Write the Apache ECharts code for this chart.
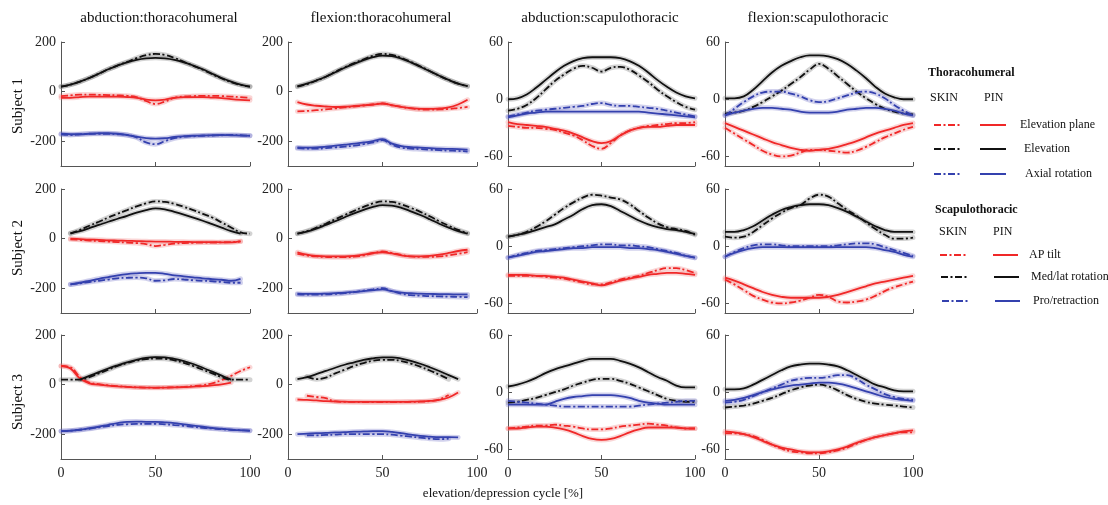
<!DOCTYPE html>
<html>
<head>
<meta charset="utf-8">
<script src="https://cdn.jsdelivr.net/npm/echarts@6/dist/echarts.min.js"></script>
<style>
html, body { margin: 0; padding: 0; background: #fff; }
#chart { width: 1108px; height: 505px; }
</style>
</head>
<body>
<div id="chart"></div>
<script>
// elevation/depression cycle [%], sampled every 5 %
const cycle = [0, 5, 10, 15, 20, 25, 30, 35, 40, 45, 50, 55, 60, 65, 70, 75, 80, 85, 90, 95, 100];

const colTitles = ['abduction:thoracohumeral', 'flexion:thoracohumeral', 'abduction:scapulothoracic', 'flexion:scapulothoracic'];
const rowTitles = ['Subject 1', 'Subject 2', 'Subject 3'];
const thTicks = [-200, 0, 200];
const stTicks = [-60, 0, 60];
const xTicks = [0, 50, 100];

// --- Subject 1 ---
const S1_abdTH_plane_skin = [-18, -15, -12, -12, -13, -14, -15, -17, -22, -38, -50, -40, -25, -20, -18, -17, -17, -18, -20, -22, -25];
const S1_abdTH_plane_pin = [-25, -25, -22, -20, -20, -20, -20, -22, -25, -32, -35, -32, -25, -22, -22, -22, -24, -26, -30, -33, -35];
const S1_abdTH_elev_skin = [20, 28, 40, 55, 72, 90, 106, 120, 135, 147, 152, 148, 136, 120, 104, 88, 70, 53, 38, 27, 20];
const S1_abdTH_elev_pin = [20, 28, 40, 55, 72, 90, 105, 118, 128, 134, 136, 134, 128, 118, 105, 90, 72, 55, 40, 28, 20];
const S1_abdTH_axial_skin = [-172, -175, -172, -170, -170, -170, -172, -175, -185, -205, -212, -200, -188, -182, -180, -178, -177, -176, -175, -176, -178];
const S1_abdTH_axial_pin = [-170, -172, -172, -170, -168, -168, -170, -175, -182, -188, -190, -188, -183, -180, -178, -177, -176, -175, -176, -177, -178];

const S1_flexTH_plane_skin = [null, -80, -78, -75, -72, -68, -64, -60, -56, -52, -48, -55, -62, -68, -72, -73, -72, -70, -66, -62, null];
const S1_flexTH_plane_pin = [null, -42, -52, -57, -60, -62, -61, -58, -55, -52, -48, -55, -62, -67, -70, -70, -68, -64, -52, -33, null];
const S1_flexTH_elev_skin = [null, 20, 30, 44, 60, 80, 98, 115, 130, 144, 152, 148, 136, 120, 102, 83, 64, 47, 32, 22, null];
const S1_flexTH_elev_pin = [null, 22, 32, 45, 60, 78, 96, 112, 127, 139, 145, 143, 133, 118, 100, 82, 64, 47, 32, 22, null];
const S1_flexTH_axial_skin = [null, -228, -230, -230, -228, -225, -222, -218, -212, -205, -196, -214, -226, -230, -232, -234, -236, -238, -239, -242, null];
const S1_flexTH_axial_pin = [null, -225, -226, -225, -222, -218, -214, -210, -205, -200, -192, -210, -220, -224, -226, -228, -230, -231, -232, -234, null];

const S1_abdST_tilt_skin = [-28, -29, -30, -30, -31, -32, -35, -38, -43, -49, -52, -46, -38, -33, -30, -28, -27, -26, -25, -25, -24];
const S1_abdST_tilt_pin = [-24, -26, -27, -28, -29, -31, -33, -36, -40, -44, -46, -44, -38, -33, -30, -29, -29, -28, -27, -27, -27];
const S1_abdST_medlat_skin = [-12, -10, -6, 1, 10, 19, 26, 32, 35, 33, 29, 33, 34, 31, 25, 18, 10, 3, -3, -8, -11];
const S1_abdST_medlat_pin = [0, 1, 5, 12, 20, 28, 35, 40, 43, 44, 44, 44, 43, 40, 35, 28, 20, 13, 7, 3, 1];
const S1_abdST_pro_skin = [-18, -16, -14, -12, -11, -10, -9, -8, -7, -5, -4, -6, -7, -7, -8, -9, -10, -12, -14, -16, -18];
const S1_abdST_pro_pin = [-19, -17, -15, -14, -13, -13, -13, -13, -13, -13, -13, -13, -13, -13, -13, -14, -15, -16, -17, -18, -19];

const S1_flexST_tilt_skin = [-30, -36, -42, -48, -54, -58, -60, -59, -56, -53, -53, -54, -55, -56, -54, -50, -45, -40, -36, -32, -29];
const S1_flexST_tilt_pin = [-25, -29, -33, -37, -41, -45, -48, -51, -53, -54, -53, -52, -50, -47, -44, -40, -36, -33, -30, -27, -25];
const S1_flexST_medlat_skin = [-15, -14, -12, -8, -3, 3, 9, 16, 23, 31, 37, 32, 24, 16, 8, 1, -5, -10, -13, -15, -16];
const S1_flexST_medlat_pin = [1, 1, 3, 10, 19, 28, 35, 40, 44, 46, 46, 45, 42, 37, 30, 22, 13, 6, 2, 0, 0];
const S1_flexST_pro_skin = [-17, -10, -3, 3, 7, 8, 8, 6, 3, -1, -3, -2, 1, 4, 7, 8, 6, 1, -6, -12, -17];
const S1_flexST_pro_pin = [-17, -14, -12, -10, -9, -9, -10, -11, -13, -14, -14, -14, -13, -11, -10, -9, -9, -10, -12, -15, -17];

// --- Subject 2 ---
const S2_abdTH_plane_skin = [null, -3, -5, -8, -10, -12, -14, -16, -18, -22, -30, -25, -20, -18, -17, -16, -16, -15, -14, -12, null];
const S2_abdTH_plane_pin = [null, 0, -2, -4, -5, -7, -8, -9, -10, -11, -12, -12, -13, -13, -14, -14, -14, -15, -15, -10, null];
const S2_abdTH_elev_skin = [null, 20, 35, 52, 68, 85, 100, 115, 130, 142, 150, 148, 140, 128, 115, 100, 85, 65, 45, 25, 20];
const S2_abdTH_elev_pin = [null, 22, 30, 42, 55, 68, 80, 92, 105, 115, 122, 118, 108, 97, 85, 72, 58, 44, 30, 20, null];
const S2_abdTH_axial_skin = [null, -185, -180, -175, -170, -165, -160, -158, -157, -160, -170, -168, -163, -165, -168, -170, -172, -175, -178, -178, null];
const S2_abdTH_axial_pin = [null, -185, -178, -170, -162, -155, -148, -143, -140, -138, -138, -142, -148, -152, -156, -160, -163, -166, -170, -162, null];

const S2_flexTH_plane_skin = [null, -62, -68, -72, -74, -75, -75, -73, -68, -60, -52, -58, -66, -72, -74, -74, -72, -68, -62, -55, null];
const S2_flexTH_plane_pin = [null, -55, -65, -70, -72, -72, -72, -70, -65, -58, -55, -60, -68, -72, -72, -70, -65, -58, -50, -45, null];
const S2_flexTH_elev_skin = [null, 20, 30, 44, 60, 78, 95, 112, 128, 142, 150, 148, 138, 124, 108, 90, 70, 52, 35, 22, null];
const S2_flexTH_elev_pin = [null, 20, 28, 40, 55, 70, 86, 102, 116, 128, 135, 133, 124, 110, 95, 78, 60, 44, 30, 20, null];
const S2_flexTH_axial_skin = [null, -225, -226, -226, -225, -223, -220, -216, -210, -205, -200, -212, -222, -228, -230, -232, -233, -234, -235, -236, null];
const S2_flexTH_axial_pin = [null, -222, -223, -223, -222, -220, -218, -215, -212, -208, -205, -212, -218, -220, -222, -223, -224, -224, -225, -225, null];

const S2_abdST_tilt_skin = [-31, -31, -31, -31, -32, -33, -34, -36, -38, -40, -40, -38, -35, -33, -31, -28, -25, -23, -23, -25, -28];
const S2_abdST_tilt_pin = [-30, -30, -30, -31, -31, -32, -33, -35, -37, -39, -41, -39, -36, -34, -32, -30, -29, -28, -28, -29, -30];
const S2_abdST_medlat_skin = [10, 12, 15, 20, 26, 33, 40, 46, 51, 54, 53, 51, 49, 44, 37, 30, 24, 20, 18, 16, 12];
const S2_abdST_medlat_pin = [10, 12, 14, 17, 20, 23, 28, 33, 39, 43, 44, 42, 37, 32, 27, 23, 20, 18, 17, 15, 13];
const S2_abdST_pro_skin = [-12, -9, -7, -5, -4, -3, -2, -1, 0, 1, 2, 2, 1, 1, 0, -1, -3, -5, -7, -10, -12];
const S2_abdST_pro_pin = [-12, -10, -8, -6, -5, -4, -3, -2, -2, -1, -1, -1, -1, -2, -2, -3, -4, -6, -8, -10, -12];

const S2_flexST_tilt_skin = [-35, -40, -46, -52, -56, -59, -60, -59, -57, -54, -51, -53, -58, -59, -58, -56, -52, -47, -43, -40, -37];
const S2_flexST_tilt_pin = [-33, -36, -40, -44, -48, -51, -53, -54, -54, -54, -54, -53, -51, -48, -45, -42, -39, -37, -35, -33, -31];
const S2_flexST_medlat_skin = [10, 9, 10, 15, 22, 29, 35, 40, 43, 50, 54, 52, 45, 38, 32, 25, 18, 12, 8, 8, 9];
const S2_flexST_medlat_pin = [15, 15, 17, 21, 27, 33, 38, 41, 43, 44, 44, 43, 40, 36, 31, 26, 21, 17, 15, 15, 15];
const S2_flexST_pro_skin = [-11, -6, -2, 1, 2, 2, 1, 0, 0, 0, 0, 0, 1, 2, 3, 3, 2, -1, -4, -7, -10];
const S2_flexST_pro_pin = [-11, -7, -4, -2, -1, -1, -1, -1, -1, -1, -1, -1, -1, -1, -1, -1, -2, -4, -6, -9, -11];

// --- Subject 3 ---
const S3_abdTH_plane_skin = [75, 70, 30, 8, 2, -3, -6, -9, -11, -12, -13, -12, -11, -9, -6, -2, 5, 18, 35, 55, 70];
const S3_abdTH_plane_pin = [75, 65, 25, 5, 0, -4, -7, -9, -11, -12, -12, -12, -11, -10, -8, -6, -3, 1, 8, null, null];
const S3_abdTH_elev_skin = [20, 20, 20, 30, 45, 60, 75, 87, 97, 103, 105, 104, 98, 88, 75, 60, 45, 30, 20, 20, 20];
const S3_abdTH_elev_pin = [null, null, 20, 35, 50, 65, 78, 90, 100, 108, 111, 110, 104, 95, 83, 68, 52, 36, 20, null, null];
const S3_abdTH_axial_skin = [-188, -186, -182, -178, -172, -167, -162, -160, -158, -158, -158, -160, -163, -166, -170, -174, -177, -180, -182, -184, -186];
const S3_abdTH_axial_pin = [-188, -186, -182, -176, -170, -162, -155, -150, -149, -150, -150, -152, -155, -160, -165, -170, -175, -178, -182, -184, -186];

const S3_flexTH_plane_skin = [null, null, -45, -50, -55, -68, -70, -70, -71, -71, -71, -71, -70, -70, -69, -67, -60, -42, null, null, null];
const S3_flexTH_plane_pin = [null, -60, -62, -64, -67, -68, -69, -70, -70, -70, -70, -70, -70, -69, -68, -66, -62, -52, -32, null, null];
const S3_flexTH_elev_skin = [null, null, 32, 22, 28, 45, 60, 75, 87, 96, 100, 100, 95, 85, 72, 57, 40, 22, null, null, null];
const S3_flexTH_elev_pin = [null, 22, 30, 42, 55, 68, 80, 90, 100, 106, 110, 110, 105, 96, 84, 70, 55, 38, 22, null, null];
const S3_flexTH_axial_skin = [null, null, -205, -205, -203, -202, -200, -200, -200, -200, -200, -202, -206, -210, -214, -218, -220, -218, null, null, null];
const S3_flexTH_axial_pin = [null, -200, -198, -196, -195, -193, -192, -190, -189, -188, -188, -191, -196, -202, -207, -210, -212, -212, -213, null, null];

const S3_abdST_tilt_skin = [-38, -37, -36, -35, -35, -34, -35, -36, -38, -39, -39, -38, -36, -35, -34, -33, -34, -35, -37, -38, -38];
const S3_abdST_tilt_pin = [-38, -38, -37, -36, -36, -37, -39, -42, -46, -49, -50, -49, -46, -42, -39, -37, -37, -37, -37, -38, -38];
const S3_abdST_medlat_skin = [-11, -10, -8, -6, -3, 0, 3, 7, 10, 13, 14, 14, 12, 9, 5, 1, -3, -7, -9, -10, -10];
const S3_abdST_medlat_pin = [6, 8, 11, 15, 20, 24, 27, 30, 33, 35, 35, 35, 33, 30, 26, 21, 16, 12, 7, 5, 5];
const S3_abdST_pro_skin = [-9, -10, -11, -12, -13, -14, -15, -15, -15, -15, -15, -15, -15, -15, -14, -13, -12, -11, -10, -9, -9];
const S3_abdST_pro_pin = [-13, -13, -13, -13, -13, -10, -7, -5, -4, -3, -3, -3, -4, -6, -9, -11, -12, -13, -13, -13, -13];

const S3_flexST_tilt_skin = [-43, -43, -44, -46, -50, -55, -59, -62, -63, -64, -64, -63, -61, -58, -54, -50, -47, -45, -43, -42, -42];
const S3_flexST_tilt_pin = [-41, -42, -44, -47, -51, -55, -58, -60, -62, -63, -63, -62, -60, -57, -53, -50, -47, -45, -43, -41, -40];
const S3_flexST_medlat_skin = [-16, -15, -14, -12, -9, -6, -2, 2, 5, 7, 8, 6, 2, -3, -7, -10, -12, -13, -14, -15, -16];
const S3_flexST_medlat_pin = [3, 3, 4, 8, 13, 18, 23, 27, 29, 30, 30, 29, 27, 23, 18, 13, 8, 5, 2, 1, 1];
const S3_flexST_pro_skin = [-11, -10, -8, -4, 0, 4, 8, 12, 14, 15, 15, 16, 18, 18, 14, 8, 3, -2, -5, -7, -8];
const S3_flexST_pro_pin = [-9, -8, -6, -3, 0, 3, 5, 7, 8, 9, 10, 10, 9, 7, 4, 1, -2, -5, -7, -8, -9];

// each panel: red skin/pin, black skin/pin, blue skin/pin  (row-major)
const panelLines = [
    [S1_abdTH_plane_skin, S1_abdTH_plane_pin, S1_abdTH_elev_skin, S1_abdTH_elev_pin, S1_abdTH_axial_skin, S1_abdTH_axial_pin],
    [S1_flexTH_plane_skin, S1_flexTH_plane_pin, S1_flexTH_elev_skin, S1_flexTH_elev_pin, S1_flexTH_axial_skin, S1_flexTH_axial_pin],
    [S1_abdST_tilt_skin, S1_abdST_tilt_pin, S1_abdST_medlat_skin, S1_abdST_medlat_pin, S1_abdST_pro_skin, S1_abdST_pro_pin],
    [S1_flexST_tilt_skin, S1_flexST_tilt_pin, S1_flexST_medlat_skin, S1_flexST_medlat_pin, S1_flexST_pro_skin, S1_flexST_pro_pin],
    [S2_abdTH_plane_skin, S2_abdTH_plane_pin, S2_abdTH_elev_skin, S2_abdTH_elev_pin, S2_abdTH_axial_skin, S2_abdTH_axial_pin],
    [S2_flexTH_plane_skin, S2_flexTH_plane_pin, S2_flexTH_elev_skin, S2_flexTH_elev_pin, S2_flexTH_axial_skin, S2_flexTH_axial_pin],
    [S2_abdST_tilt_skin, S2_abdST_tilt_pin, S2_abdST_medlat_skin, S2_abdST_medlat_pin, S2_abdST_pro_skin, S2_abdST_pro_pin],
    [S2_flexST_tilt_skin, S2_flexST_tilt_pin, S2_flexST_medlat_skin, S2_flexST_medlat_pin, S2_flexST_pro_skin, S2_flexST_pro_pin],
    [S3_abdTH_plane_skin, S3_abdTH_plane_pin, S3_abdTH_elev_skin, S3_abdTH_elev_pin, S3_abdTH_axial_skin, S3_abdTH_axial_pin],
    [S3_flexTH_plane_skin, S3_flexTH_plane_pin, S3_flexTH_elev_skin, S3_flexTH_elev_pin, S3_flexTH_axial_skin, S3_flexTH_axial_pin],
    [S3_abdST_tilt_skin, S3_abdST_tilt_pin, S3_abdST_medlat_skin, S3_abdST_medlat_pin, S3_abdST_pro_skin, S3_abdST_pro_pin],
    [S3_flexST_tilt_skin, S3_flexST_tilt_pin, S3_flexST_medlat_skin, S3_flexST_medlat_pin, S3_flexST_pro_skin, S3_flexST_pro_pin]
];

const SERIF = '"Liberation Serif", "DejaVu Serif", serif';
const lineColors = ['#f02828', '#f02828', '#111111', '#111111', '#3441ae', '#3441ae'];
const bandColors = ['rgba(238,120,120,0.3)', 'rgba(238,120,120,0.3)', 'rgba(110,110,110,0.3)', 'rgba(110,110,110,0.3)', 'rgba(105,105,195,0.3)', 'rgba(105,105,195,0.3)'];
const dashDot = [7, 2.5, 2, 2.5];
const axisColor = '#555';

const gridLeft = [61, 288, 508, 725];
const gridWidth = [189, 189, 187, 188];
const gridTop = [42, 189, 335];
const gridHeight = 124;

function toPairs(values) {
    return cycle.map((x, i) => [x, values[i] == null ? '-' : values[i]]);
}

const grids = [], xAxes = [], yAxes = [], series = [];
panelLines.forEach((lines, p) => {
    const row = Math.floor(p / 4), col = p % 4;
    const isTH = col < 2;
    grids.push({ left: gridLeft[col], top: gridTop[row], width: gridWidth[col], height: gridHeight });
    xAxes.push({
        gridIndex: p, type: 'value', min: 0, max: 100, interval: 50,
        axisLine: { onZero: false, lineStyle: { color: axisColor, width: 1 } },
        axisTick: { inside: true, length: 4, lineStyle: { color: axisColor } },
        axisLabel: { show: row === 2, customValues: xTicks, fontFamily: SERIF, fontSize: 14, color: '#222', margin: 7 },
        splitLine: { show: false }
    });
    yAxes.push({
        gridIndex: p, type: 'value',
        min: isTH ? -300 : -70, max: isTH ? 200 : 60,
        axisLine: { show: true, lineStyle: { color: axisColor, width: 1 } },
        axisTick: { show: true, inside: true, length: 4, customValues: isTH ? thTicks : stTicks, lineStyle: { color: axisColor } },
        axisLabel: { customValues: isTH ? thTicks : stTicks, fontFamily: SERIF, fontSize: 14, color: '#222', margin: 5 },
        splitLine: { show: false }
    });
    lines.forEach((values, k) => {
        // shaded variability band
        series.push({
            type: 'line', xAxisIndex: p, yAxisIndex: p, data: toPairs(values),
            smooth: 0.4, symbol: 'none', silent: true, z: 1,
            lineStyle: { color: bandColors[k], width: 5, cap: 'round' }
        });
        series.push({
            type: 'line', xAxisIndex: p, yAxisIndex: p, data: toPairs(values),
            smooth: 0.4, symbol: 'none', z: 3,
            lineStyle: { color: lineColors[k], width: 1.8, type: k % 2 === 0 ? dashDot : 'solid' }
        });
    });
});

// titles and legend drawn as graphic text/lines
const graphic = [];
const colCenters = [159, 381, 600, 818];
colTitles.forEach((t, i) => {
    graphic.push({ type: 'text', x: colCenters[i], y: 18,
        style: { text: t, font: '15px ' + SERIF, fill: '#111', align: 'center', verticalAlign: 'middle', textAlign: 'center', textVerticalAlign: 'middle' } });
});
const rowCenters = [106, 248, 402];
rowTitles.forEach((t, i) => {
    graphic.push({ type: 'text', x: 18, y: rowCenters[i], rotation: Math.PI / 2,
        style: { text: t, font: '15px ' + SERIF, fill: '#111', align: 'center', verticalAlign: 'middle', textAlign: 'center', textVerticalAlign: 'middle' } });
});
graphic.push({ type: 'text', x: 503, y: 494,
    style: { text: 'elevation/depression cycle [%]', font: '13px ' + SERIF, fill: '#111', align: 'center', verticalAlign: 'middle', textAlign: 'center', textVerticalAlign: 'middle' } });

function legendText(text, x, y, bold) {
    graphic.push({ type: 'text', x: x, y: y,
        style: { text: text, font: (bold ? 'bold ' : '') + '12px ' + SERIF, fill: '#111', align: 'left', verticalAlign: 'middle', textAlign: 'left', textVerticalAlign: 'middle' } });
}
function legendLine(x1, x2, y, color, dashed) {
    graphic.push({ type: 'line', shape: { x1: x1, y1: y, x2: x2, y2: y },
        style: { stroke: color, lineWidth: 2, lineDash: dashed ? dashDot : null } });
}
legendText('Thoracohumeral', 928, 73, true);
legendText('SKIN', 930, 98);
legendText('PIN', 984, 98);
const thNames = ['Elevation plane', 'Elevation', 'Axial rotation'];
const thRowsY = [125, 149, 174];
const thTextX = [1020, 1024, 1025];
thNames.forEach((n, i) => {
    legendLine(934, 960, thRowsY[i], lineColors[i * 2], true);
    legendLine(980, 1006, thRowsY[i], lineColors[i * 2], false);
    legendText(n, thTextX[i], thRowsY[i]);
});
legendText('Scapulothoracic', 935, 210, true);
legendText('SKIN', 939, 232);
legendText('PIN', 993, 232);
const stNames = ['AP tilt', 'Med/lat rotation', 'Pro/retraction'];
const stRowsY = [255, 277, 301];
const stTextX = [1029, 1031, 1033];
stNames.forEach((n, i) => {
    legendLine(940 + i, 966 + i, stRowsY[i], lineColors[i * 2], true);
    legendLine(993 + i, 1018 + i, stRowsY[i], lineColors[i * 2], false);
    legendText(n, stTextX[i], stRowsY[i]);
});

const chart = echarts.init(document.getElementById('chart'));
chart.setOption({
    animation: false,
    backgroundColor: '#fff',
    grid: grids,
    xAxis: xAxes,
    yAxis: yAxes,
    series: series,
    graphic: graphic
});
</script>
</body>
</html>
